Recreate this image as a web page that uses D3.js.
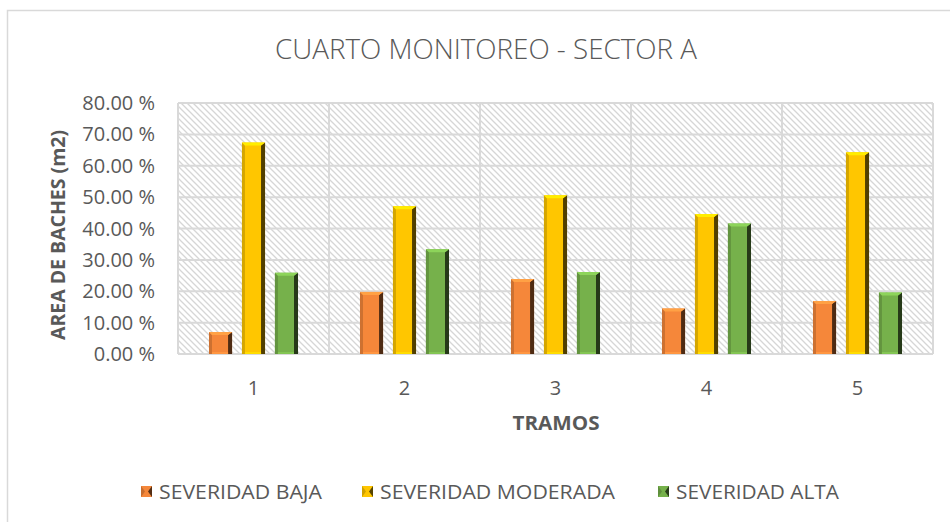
<!DOCTYPE html>
<html><head><meta charset="utf-8">
<script src="https://cdn.jsdelivr.net/npm/d3@7"></script>
<style>body{margin:0;background:#fff}svg{display:block}text{font-family:"Open Sans",sans-serif}</style>
</head><body>
<svg id="c" width="950" height="522"></svg>
<script>
const categories = ["1","2","3","4","5"];
const seriesNames = ["SEVERIDAD BAJA","SEVERIDAD MODERADA","SEVERIDAD ALTA"];
const baja = [7.0, 19.8, 23.9, 14.5, 16.9];
const moderada = [67.4, 47.1, 50.6, 44.6, 64.3];
const alta = [25.9, 33.4, 26.1, 41.6, 19.6];
const yTicks = [0,10,20,30,40,50,60,70,80];
const colors = ["#F5873A","#FFC600","#76B14B"];
const title = "CUARTO MONITOREO - SECTOR A";

const series = [baja, moderada, alta];
const svg = d3.select("#c");
const L=178,R=933,T=103,B=354;

svg.append("rect").attr("x",7.5).attr("y",10.5).attr("width",960).attr("height",530)
  .attr("fill","#fff").attr("stroke","#d9d9d9").attr("stroke-width",1.5);

const defs = svg.append("defs");
const pat = defs.append("pattern").attr("id","hatch").attr("patternUnits","userSpaceOnUse")
  .attr("width",6).attr("height",6);
pat.append("rect").attr("width",6).attr("height",6).attr("fill","#fff");
pat.append("path").attr("d","M-1,-1 L7,7 M-4,2 L2,8 M2,-4 L8,2").attr("stroke","#d6d6d6").attr("stroke-width",1.3);

const x = d3.scaleBand().domain(categories).range([L,R]);
const xs = d3.scaleBand().domain(d3.range(3)).range([0,x.bandwidth()]).paddingInner(0.3).paddingOuter(0.94);
const y = d3.scaleLinear().domain([0,80]).range([B,T]);

svg.append("rect").attr("x",L).attr("y",T).attr("width",R-L).attr("height",B-T).attr("fill","url(#hatch)");

// gridlines
svg.append("g").selectAll("line").data(yTicks).join("line")
  .attr("x1",L).attr("x2",R).attr("y1",d=>y(d)).attr("y2",d=>y(d))
  .attr("stroke","#d9d9d9").attr("stroke-width",2);
const vb = categories.map(c=>x(c)).concat([R]);
svg.append("g").selectAll("line").data(vb).join("line")
  .attr("x1",d=>d).attr("x2",d=>d).attr("y1",T).attr("y2",B)
  .attr("stroke","#d9d9d9").attr("stroke-width",2);

// bars with bevel
const bars = [];
series.forEach((vals,si)=>vals.forEach((v,ci)=>bars.push({si,ci,v})));
const b=3;
const g = svg.append("g");
bars.forEach(d=>{
  const x0 = x(categories[d.ci]) + xs(d.si), w = xs.bandwidth(), x1=x0+w;
  const y0 = y(d.v), y1 = y(0);
  const c = d3.color(colors[d.si]);
  g.append("rect").attr("x",x0).attr("y",y0).attr("width",w).attr("height",y1-y0).attr("fill",c);
  g.append("polygon").attr("points",[[x0,y0],[x0+b,y0+b],[x0+b,y1],[x0,y1]].join(" ")).attr("fill",c.darker(0.5));
  g.append("polygon").attr("points",[[x1,y0],[x1-b-1,y0+b],[x1-b-1,y1],[x1,y1]].join(" ")).attr("fill",c.darker(3.2));
  g.append("polygon").attr("points",[[x0,y0],[x1,y0],[x1-b-1,y0+b],[x0+b,y0+b]].join(" ")).attr("fill",c.brighter(0.5));
  g.append("polygon").attr("points",[[x0+b,y1-2],[x1-b-1,y1-2],[x1-b-1,y1],[x0+b,y1]].join(" ")).attr("fill",c.brighter(0.3));
});

// y tick labels
svg.append("g").selectAll("text").data(yTicks).join("text")
  .attr("x",155).attr("y",d=>y(d)).attr("dy","0.35em").attr("text-anchor","end")
  .attr("font-size",20).attr("fill","#595959").text(d=>d.toFixed(2)+" %");
// x tick labels
svg.append("g").selectAll("text").data(categories).join("text")
  .attr("x",d=>x(d)+x.bandwidth()/2).attr("y",388).attr("dy","0.35em").attr("text-anchor","middle")
  .attr("font-size",20).attr("fill","#595959").text(d=>d);

svg.append("text").attr("x",486).attr("y",50).attr("dy","0.35em").attr("text-anchor","middle")
  .attr("font-size",27).attr("font-weight",300).attr("fill","#595959")
  .attr("textLength",422).attr("lengthAdjust","spacingAndGlyphs").text(title);
svg.append("text").attr("transform","translate(58,235) rotate(-90)").attr("dy","0.35em").attr("text-anchor","middle")
  .attr("font-size",19).attr("font-weight","bold").attr("fill","#595959")
  .attr("textLength",210).attr("lengthAdjust","spacingAndGlyphs").text("AREA DE BACHES (m2)");
svg.append("text").attr("x",556).attr("y",423).attr("dy","0.35em").attr("text-anchor","middle")
  .attr("font-size",19).attr("font-weight","bold").attr("fill","#595959")
  .attr("textLength",87).attr("lengthAdjust","spacingAndGlyphs").text("TRAMOS");

// legend
const legX = [141,362,658];
const legW = [163,235,163];
seriesNames.forEach((n,i)=>{
  const c = d3.color(colors[i]);
  const lx = legX[i], ly=486, s=11;
  svg.append("rect").attr("x",lx).attr("y",ly).attr("width",s).attr("height",s).attr("fill",c);
  svg.append("polygon").attr("points",[[lx,ly],[lx+4,ly+s/2],[lx,ly+s]].join(" ")).attr("fill",c.darker(0.6));
  svg.append("polygon").attr("points",[[lx+s,ly],[lx+s-4,ly+s/2],[lx+s,ly+s]].join(" ")).attr("fill",c.darker(3));
  svg.append("text").attr("x",lx+18).attr("y",ly+s/2).attr("dy","0.35em").attr("font-size",20)
    .attr("fill","#595959").attr("textLength",legW[i]).attr("lengthAdjust","spacingAndGlyphs").text(n);
});
</script>
</body></html>
